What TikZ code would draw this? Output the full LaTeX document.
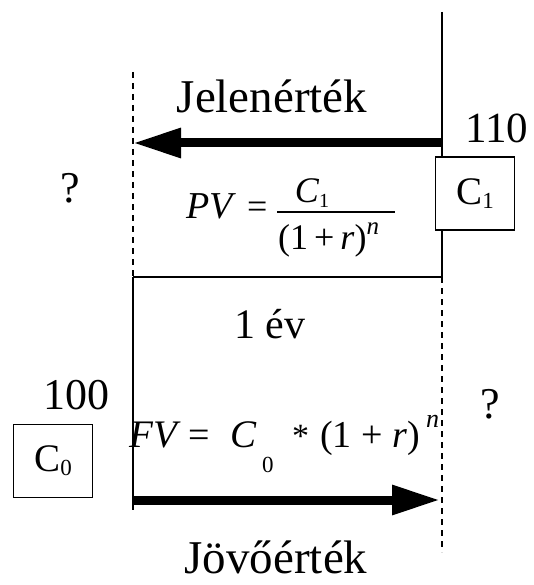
\documentclass[tikz,border=0pt]{standalone}
\usepackage{fontspec}
\setmainfont{Liberation Serif}
\usetikzlibrary{arrows.meta}
\newcommand{\fs}[1]{\fontsize{#1}{#1}\selectfont}
\tikzset{
  solidline/.style={line width=1.6pt, draw=black},
  dashline/.style={line width=1.4pt, draw=black, dash pattern=on 6pt off 5pt},
  fracbar/.style={line width=1.4pt, draw=black},
  bigarrow/.style={line width=9pt, draw=black, -{Triangle[length=48pt 0 0, width=28pt 0 0]}},
  lbl/.style={inner sep=0pt, anchor=base},
  lblw/.style={inner sep=0pt, anchor=base west},
  cbox/.style={draw=black, line width=1.1pt, minimum width=79pt, minimum height=73pt, inner sep=0pt, fill=white}
}
\begin{document}
\begin{tikzpicture}[x=1pt,y=-1pt]
\useasboundingbox (0,0) rectangle (533,585);
% frame coordinates
\coordinate (rt) at (442,12);
\coordinate (rmid) at (442,277);
\coordinate (rbot) at (442,552);
\coordinate (lt) at (133,72);
\coordinate (lmid) at (133,277);
\coordinate (lbot) at (133,510);
\coordinate (atopS) at (442,143);
\coordinate (atopE) at (133,143);
\coordinate (abotS) at (133,500);
\coordinate (abotE) at (440,500);
\coordinate (barL) at (277,212);
\coordinate (barR) at (395,212);
% lines
\draw[solidline] (rt) -- (rmid);
\draw[dashline] (lt) -- (lmid);
\draw[solidline] (lmid) -- (rmid);
\draw[solidline] (lmid) -- (lbot);
\draw[dashline] (rmid) -- (rbot);
% arrows
\draw[bigarrow] (atopS) -- (atopE);
\draw[bigarrow] (abotS) -- (abotE);
% boxes
\node[cbox] (c1) at (475,193.5) {\fs{39}C\raisebox{-4pt}{\fs{23}1}};
\node[cbox] (c0) at (53,461) {\fs{39}C\raisebox{-4pt}{\fs{23}0}};
% labels
\node[lbl] (jel) at (272,113) {\fs{47}Jelenérték};
\node[lblw] (v110) at (465,143) {\fs{43}110};
\node[lbl] (q1) at (70,203) {\fs{44}?};
\node[lbl] (ev) at (270,338) {\fs{42}1 év};
\node[lblw] (v100) at (43,409) {\fs{44}100};
\node[lbl] (q2) at (490,418) {\fs{44}?};
\node[lbl] (jov) at (276,573) {\fs{47}Jövőérték};
% PV formula
\node[lblw] (pvl) at (186,218) {\fs{38}\textit{PV}};
\node[lblw] (pveq) at (247,218) {\fs{36}=};
\node[lbl] (pvnum) at (312,203) {\fs{36}\textit{C}\raisebox{-5pt}{\fs{20}1}};
\draw[fracbar] (barL) -- (barR);
\node[lblw] (pvden) at (278,249) {\fs{36}(1\,+\,\textit{r})\raisebox{15pt}{\fs{25}\textit{n}}};
% FV formula
\node[lblw] (fvl) at (129,447) {\fs{39}\textit{FV}};
\node[lblw] (fveq) at (188,447) {\fs{38}=};
\node[lblw] (fvc) at (230,447) {\fs{39}\textit{C}};
\node[lblw] (fvsub) at (262,472) {\fs{23}0};
\node[lblw] (fvstar) at (292,447) {\fs{34}*};
\node[lblw] (fvpar) at (320,447) {\fs{38}(1 + \textit{r})};
\node[lblw] (fvsup) at (426,427) {\fs{26}\textit{n}};
\end{tikzpicture}
\end{document}
